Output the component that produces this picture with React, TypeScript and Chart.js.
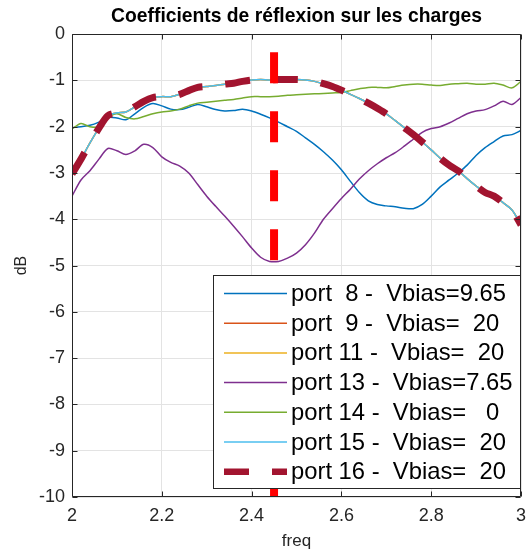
import React, { useEffect, useRef } from "react";
import { Chart, registerables } from "chart.js";

Chart.register(...registerables);

// ---- data ----
const FREQ = [
  2.0, 2.02, 2.04, 2.06, 2.08, 2.1, 2.12, 2.14, 2.16, 2.18,
  2.2, 2.22, 2.24, 2.26, 2.28, 2.3, 2.32, 2.34, 2.36, 2.38,
  2.4, 2.42, 2.44, 2.46, 2.48, 2.5, 2.52, 2.54, 2.56, 2.58,
  2.6, 2.62, 2.64, 2.66, 2.68, 2.7, 2.72, 2.74, 2.76, 2.78,
  2.8, 2.82, 2.84, 2.86, 2.88, 2.9, 2.92, 2.94, 2.96, 2.98, 3.0,
];

const PORT8 = [
  -2.02, -2.0, -1.97, -1.9, -1.8, -1.81, -1.85, -1.72, -1.58, -1.5,
  -1.55, -1.62, -1.63, -1.58, -1.52, -1.57, -1.63, -1.66, -1.65, -1.62,
  -1.66, -1.73, -1.81, -1.9, -2.0, -2.1, -2.24, -2.38, -2.54, -2.72,
  -2.93, -3.18, -3.42, -3.6, -3.68, -3.71, -3.73, -3.76, -3.77, -3.68,
  -3.5, -3.3, -3.15, -3.0, -2.83, -2.62, -2.45, -2.32, -2.2, -2.17, -2.08,
];

const PORT13 = [
  -3.5, -3.15, -2.95, -2.7, -2.47, -2.52, -2.6, -2.52, -2.38, -2.45,
  -2.65, -2.77, -2.85, -3.0, -3.25, -3.5, -3.72, -3.93, -4.15, -4.38,
  -4.62, -4.82, -4.91, -4.91, -4.84, -4.73, -4.55, -4.3, -4.0, -3.77,
  -3.55, -3.35, -3.13, -2.95, -2.8, -2.67, -2.56, -2.42, -2.27, -2.12,
  -2.04, -2.0, -1.92, -1.82, -1.72, -1.66, -1.63, -1.55, -1.45, -1.52, -1.37,
];

const PORT14 = [
  -2.05, -1.93, -2.0, -2.0, -1.8, -1.72, -1.8, -1.83, -1.78, -1.72,
  -1.68, -1.66, -1.62, -1.55, -1.49, -1.47, -1.45, -1.43, -1.41, -1.38,
  -1.35, -1.35, -1.35, -1.34, -1.32, -1.31, -1.3, -1.29, -1.28, -1.27,
  -1.26, -1.22, -1.18, -1.15, -1.15, -1.16, -1.13, -1.1, -1.08, -1.08,
  -1.1, -1.11, -1.08, -1.07, -1.06, -1.08, -1.08, -1.06, -1.1, -1.16, -1.02,
];

// ports 9, 11, 15 and 16 (all Vbias = 20) lie exactly on top of each other
const PORT15 = [
  -3.02, -2.7, -2.35, -2.03, -1.76, -1.7, -1.68, -1.57, -1.45, -1.37,
  -1.35, -1.35, -1.3, -1.22, -1.15, -1.13, -1.11, -1.08, -1.06, -1.02,
  -0.99, -0.98, -0.99, -0.98, -0.98, -0.98, -0.99, -1.02, -1.07, -1.13,
  -1.21, -1.3, -1.39, -1.49, -1.6, -1.72, -1.87, -2.02, -2.17, -2.33,
  -2.5, -2.68, -2.83, -2.95, -3.12, -3.28, -3.42, -3.5, -3.64, -3.8, -4.12,
];
const PORT9 = PORT15;
const PORT11 = PORT15;
const PORT16 = PORT15;

const LABELS = [
  "port  8 -  Vbias=9.65",
  "port  9 -  Vbias=  20",
  "port 11 -  Vbias=  20",
  "port 13 -  Vbias=7.65",
  "port 14 -  Vbias=   0",
  "port 15 -  Vbias=  20",
  "port 16 -  Vbias=  20",
];

const MARKER_FREQ = [2.45, 2.45];
const MARKER_DB = [-0.39, -10];

const X_TICKS = [2, 2.2, 2.4, 2.6, 2.8, 3];
const X_TICK_LABELS = ["2", "2.2", "2.4", "2.6", "2.8", "3"];
const Y_TICKS = [0, -1, -2, -3, -4, -5, -6, -7, -8, -9, -10];
const Y_TICK_LABELS = ["0", "-1", "-2", "-3", "-4", "-5", "-6", "-7", "-8", "-9", "-10"];

const TITLE = "Coefficients de réflexion sur les charges";
const X_LABEL = "freq";
const Y_LABEL = "dB";

const FONT = '"Liberation Sans", Arial, Helvetica, sans-serif';
const AXIS = "#262626";

const pts = (ys: number[]) => FREQ.map((f, i) => ({ x: f, y: ys[i] }));

const boxPlugin = {
  id: "matlabBox",
  afterDatasetsDraw(chart: any) {
    const { ctx, chartArea } = chart;
    const { left, right, top, bottom } = chartArea;
    const xs = chart.scales.x;
    const ys = chart.scales.y;
    ctx.save();
    ctx.strokeStyle = AXIS;
    ctx.lineWidth = 1;
    ctx.setLineDash([]);
    const L = Math.round(left) + 0.5;
    const R = Math.round(right) - 0.5;
    const T = Math.round(top) + 0.5;
    const B = Math.round(bottom) - 0.5;
    ctx.beginPath();
    ctx.rect(L, T, R - L, B - T);
    const tl = 5;
    X_TICKS.forEach((v) => {
      const px = Math.round(xs.getPixelForValue(v)) + 0.5;
      ctx.moveTo(px, B);
      ctx.lineTo(px, B - tl);
      ctx.moveTo(px, T);
      ctx.lineTo(px, T + tl);
    });
    Y_TICKS.forEach((v) => {
      const py = Math.round(ys.getPixelForValue(v)) + 0.5;
      ctx.moveTo(L, py);
      ctx.lineTo(L + tl, py);
      ctx.moveTo(R, py);
      ctx.lineTo(R - tl, py);
    });
    ctx.stroke();
    ctx.restore();
  },
};

const legendPlugin = {
  id: "matlabLegend",
  afterDraw(chart: any) {
    const { ctx, chartArea } = chart;
    const w = 308;
    const h = 214;
    const x0 = Math.round(chartArea.right - w);
    const y0 = Math.round(chartArea.bottom - 8 - h);
    ctx.save();
    ctx.fillStyle = "#ffffff";
    ctx.fillRect(x0, y0, w, h);
    ctx.strokeStyle = AXIS;
    ctx.lineWidth = 1;
    ctx.setLineDash([]);
    ctx.strokeRect(x0 + 0.5, y0 + 0.5, w - 1, h - 1);
    const items = chart.data.datasets.filter((d: any) => d.label);
    items.forEach((d: any, i: number) => {
      const y = y0 + 18.5 + i * 29.7;
      ctx.beginPath();
      ctx.setLineDash(d.borderDash || []);
      ctx.lineCap = "butt";
      ctx.strokeStyle = d.borderColor;
      ctx.lineWidth = d.legendWidth || d.borderWidth;
      ctx.moveTo(x0 + 11, y);
      ctx.lineTo(x0 + 74, y);
      ctx.stroke();
      ctx.setLineDash([]);
      ctx.fillStyle = "#000000";
      ctx.font = `23.8px ${FONT}`;
      ctx.textBaseline = "middle";
      ctx.textAlign = "left";
      ctx.fillText(d.label, x0 + 78, y + 1);
    });
    ctx.restore();
  },
};

export default function App() {
  const ref = useRef<HTMLCanvasElement | null>(null);

  useEffect(() => {
    document.body.style.margin = "0";
    const canvas = ref.current;
    if (!canvas) return;
    const thin = (label: string, data: number[], color: string, order: number) => ({
      label,
      data: pts(data),
      borderColor: color,
      backgroundColor: color,
      borderWidth: 1.5,
      pointRadius: 0,
      tension: 0.3,
      fill: false,
      order,
    });
    const chart = new Chart(canvas, {
      type: "line",
      data: {
        datasets: [
          thin(LABELS[0], PORT8, "#0072BD", 8),
          thin(LABELS[1], PORT9, "#D95319", 7),
          thin(LABELS[2], PORT11, "#EDB120", 6),
          thin(LABELS[3], PORT13, "#7E2F8E", 5),
          thin(LABELS[4], PORT14, "#77AC30", 4),
          thin(LABELS[5], PORT15, "#4DBEEE", 3),
          {
            label: LABELS[6],
            data: pts(PORT16),
            borderColor: "#A2142F",
            backgroundColor: "#A2142F",
            borderWidth: 7,
            legendWidth: 6.5,
            borderDash: [25, 23],
            borderCapStyle: "butt",
            pointRadius: 0,
            tension: 0.3,
            fill: false,
            order: 2,
          } as any,
          {
            label: "",
            data: MARKER_FREQ.map((f, i) => ({ x: f, y: MARKER_DB[i] })),
            borderColor: "#FF0000",
            backgroundColor: "#FF0000",
            borderWidth: 8,
            borderDash: [31, 28],
            borderCapStyle: "butt",
            pointRadius: 0,
            fill: false,
            order: 1,
          } as any,
        ],
      },
      options: {
        animation: false,
        responsive: false,
        maintainAspectRatio: false,
        events: [],
        layout: { padding: { left: 0, right: 11, top: 0, bottom: 0 } },
        scales: {
          x: {
            type: "linear",
            min: 2,
            max: 3,
            afterBuildTicks: (s: any) => {
              s.ticks = X_TICKS.map((v) => ({ value: v }));
            },
            ticks: {
              font: { family: FONT, size: 18 },
              color: AXIS,
              padding: 8,
              maxRotation: 0,
              autoSkip: false,
              callback: (_v: any, i: number) => X_TICK_LABELS[i],
            },
            grid: { color: "#e3e3e3", lineWidth: 1, drawTicks: false },
            border: { display: false },
            title: {
              display: true,
              text: X_LABEL,
              font: { family: FONT, size: 17 },
              color: AXIS,
              padding: { top: 0, bottom: 4 },
            },
            afterFit: (s: any) => {
              s.height = 59;
              s.paddingLeft = 0;
              s.paddingRight = 0;
            },
          },
          y: {
            type: "linear",
            min: -10,
            max: 0,
            afterBuildTicks: (s: any) => {
              s.ticks = Y_TICKS.map((v) => ({ value: v }));
            },
            ticks: {
              font: { family: FONT, size: 18 },
              color: AXIS,
              padding: 7,
              autoSkip: false,
              callback: (_v: any, i: number) => Y_TICK_LABELS[i],
            },
            grid: { color: "#e3e3e3", lineWidth: 1, drawTicks: false },
            border: { display: false },
            title: {
              display: true,
              text: Y_LABEL,
              font: { family: FONT, size: 16 },
              color: AXIS,
              padding: { top: 12, bottom: 0 },
            },
            afterFit: (s: any) => {
              s.width = 72;
              s.paddingTop = 0;
              s.paddingBottom = 0;
            },
          },
        },
        plugins: {
          legend: { display: false },
          tooltip: { enabled: false },
          title: {
            display: true,
            text: TITLE,
            fullSize: false,
            color: "#000000",
            font: { family: FONT, size: 19.3, weight: "bold" },
            padding: { top: 5, bottom: 6 },
          },
        },
      } as any,
      plugins: [boxPlugin, legendPlugin],
    });
    return () => chart.destroy();
  }, []);

  return (
    <div style={{ width: 532, height: 556, background: "#ffffff" }}>
      <canvas ref={ref} width={532} height={556} style={{ display: "block" }} />
    </div>
  );
}
